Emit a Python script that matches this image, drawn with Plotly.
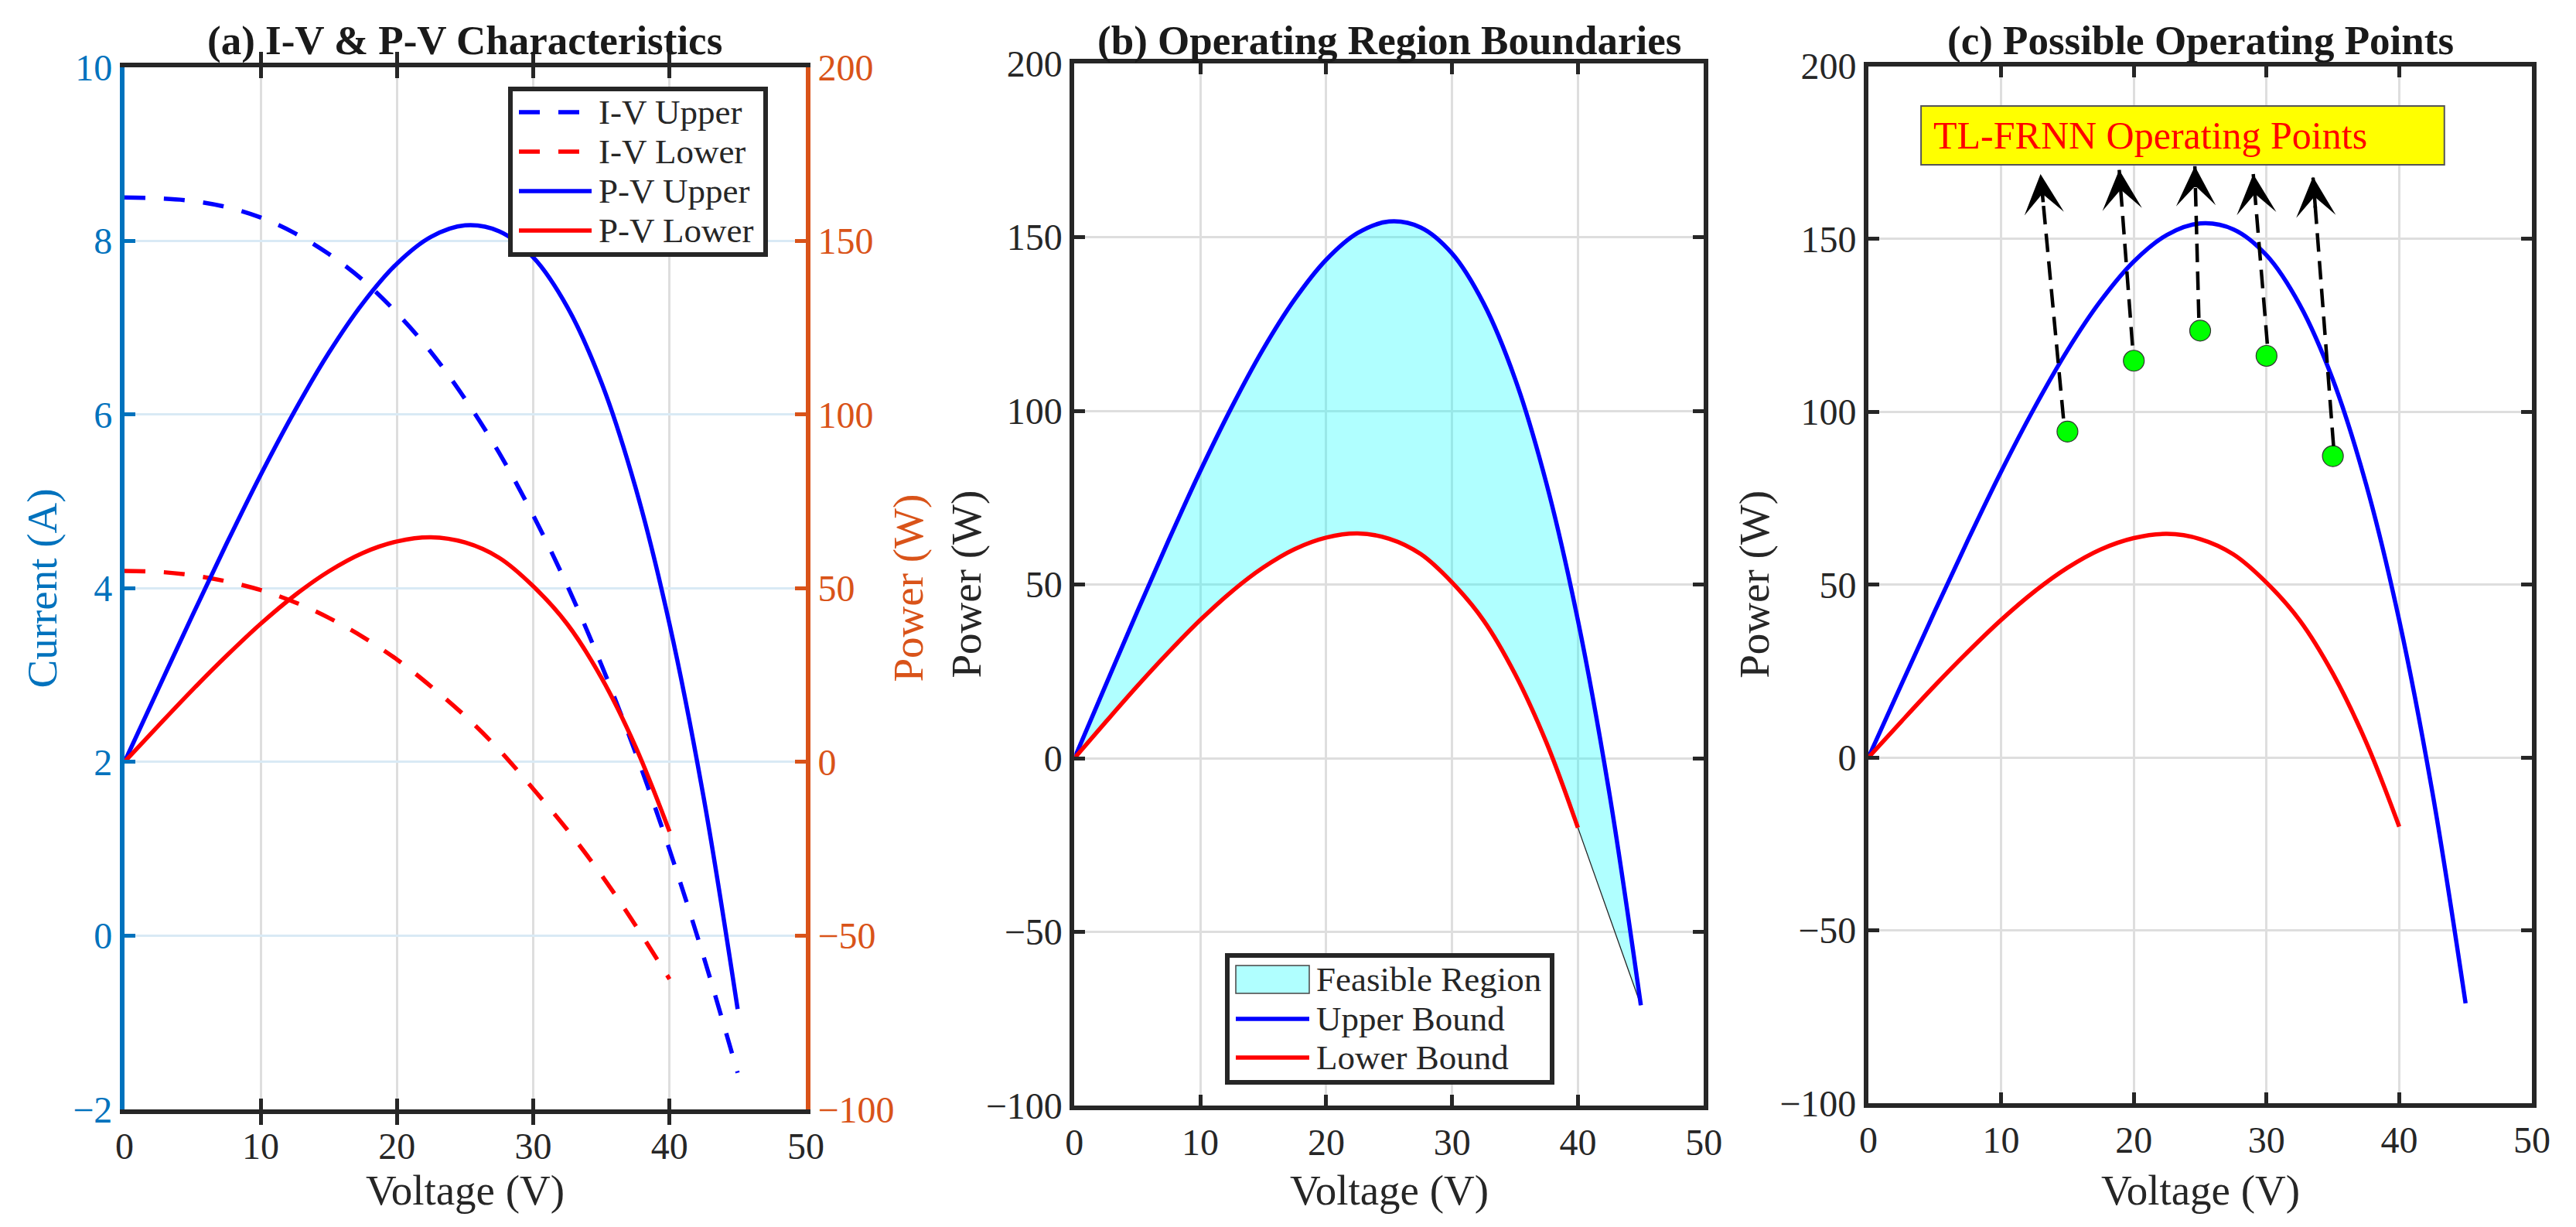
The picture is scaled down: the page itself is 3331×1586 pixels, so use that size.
import plotly.graph_objects as go

# ---- data ----
# upper / lower PV characteristics, sampled every 2.5 V
v_upper = [0, 2.5, 5, 7.5, 10, 12.5, 15, 17.5, 20, 22.5, 25, 27.5, 30, 32.5, 35, 37.5, 40, 42.5, 45]
i_upper = [8.50, 8.49, 8.46, 8.39, 8.27, 8.09, 7.85, 7.55, 7.17, 6.72, 6.18, 5.56, 4.84, 4.03, 3.12, 2.11, 0.99, -0.24, -1.58]
p_upper = [0, 21.2, 42.3, 62.9, 82.7, 101.1, 117.8, 132.1, 143.5, 151.2, 154.5, 152.8, 145.3, 131.0, 109.3, 79.1, 39.7, -10.1, -71.1]

v_lower = [0, 2.5, 5, 7.5, 10, 12.5, 15, 17.5, 20, 22.5, 25, 27.5, 30, 32.5, 35, 37.5, 40]
i_lower = [4.20, 4.19, 4.15, 4.08, 3.98, 3.84, 3.66, 3.44, 3.18, 2.87, 2.53, 2.14, 1.69, 1.22, 0.70, 0.12, -0.50]
p_lower = [0, 10.5, 20.8, 30.6, 39.8, 48.0, 54.9, 60.2, 63.5, 64.7, 63.2, 58.8, 50.6, 39.7, 24.3, 4.5, -20.0]

# TL-FRNN operating points (panel c)
v_points = [15, 20, 25, 30, 35]
p_points = [94.3, 114.8, 123.5, 116.2, 87.2]

# ---- styling ----
FONT = "Liberation Serif, Times New Roman, serif"
DARK = "#262626"
BLUE_AX = "#0072BD"
ORANGE_AX = "#D95319"
BLUE = "#0000FF"
RED = "#FF0000"
CYAN_FILL = "rgba(0,255,255,0.31)"
DASH = "27px,24px"
LW = 5.5
W, H = 3331, 1586


def px(x):
    return x / W


def py(y):
    return 1 - y / H


# panel domains (paper coords)
dom_a = [0.0459, 0.3104]
dom_b = [0.4147, 0.6590]
dom_c = [0.7229, 0.9805]
ydom_a = [0.1009, 0.9502]
ydom_b = [0.1040, 0.9533]
ydom_c = [0.1059, 0.9511]


def line(color, dash=None):
    return dict(color=color, width=LW, dash=dash, shape="spline", smoothing=1)


fig = go.Figure()

# (a) I-V & P-V
fig.add_trace(go.Scatter(x=v_upper, y=i_upper, name="I-V Upper", mode="lines",
                         line=line(BLUE, DASH), xaxis="x", yaxis="y"))
fig.add_trace(go.Scatter(x=v_lower, y=i_lower, name="I-V Lower", mode="lines",
                         line=line(RED, DASH), xaxis="x", yaxis="y"))
fig.add_trace(go.Scatter(x=v_upper, y=p_upper, name="P-V Upper", mode="lines",
                         line=line(BLUE), xaxis="x", yaxis="y2"))
fig.add_trace(go.Scatter(x=v_lower, y=p_lower, name="P-V Lower", mode="lines",
                         line=line(RED), xaxis="x", yaxis="y2"))

# (b) operating region: fill between the two bounds
fig.add_trace(go.Scatter(x=v_lower, y=p_lower, mode="lines", hoverinfo="skip",
                         line=dict(width=0, shape="spline", smoothing=1),
                         xaxis="x2", yaxis="y3"))
fig.add_trace(go.Scatter(x=v_upper, y=p_upper, name="Feasible Region", mode="lines",
                         fill="tonexty", fillcolor=CYAN_FILL,
                         line=dict(width=0, shape="spline", smoothing=1),
                         xaxis="x2", yaxis="y3"))
# patch edge closing the region at the right end
fig.add_trace(go.Scatter(x=[v_lower[-1], v_upper[-1]], y=[p_lower[-1], p_upper[-1]],
                         mode="lines", line=dict(color="#222222", width=1.3),
                         xaxis="x2", yaxis="y3"))
fig.add_trace(go.Scatter(x=v_upper, y=p_upper, name="Upper Bound", mode="lines",
                         line=line(BLUE), xaxis="x2", yaxis="y3"))
fig.add_trace(go.Scatter(x=v_lower, y=p_lower, name="Lower Bound", mode="lines",
                         line=line(RED), xaxis="x2", yaxis="y3"))

# (c) operating points
fig.add_trace(go.Scatter(x=v_upper, y=p_upper, mode="lines",
                         line=line(BLUE), xaxis="x3", yaxis="y4"))
fig.add_trace(go.Scatter(x=v_lower, y=p_lower, mode="lines",
                         line=line(RED), xaxis="x3", yaxis="y4"))

shapes = []
annotations = []

# dashed arrows from the points up to the label box
arrow_tails = [(14.7, 98.1), (19.9, 119.2), (24.9, 127.2), (30.06, 119.7), (35.05, 90.1)]
arrow_heads = [(12.97, 168.8), (18.9, 170.0), (24.6, 171.1), (29.0, 168.8), (33.5, 168.0)]
for (tx, ty), (hx, hy) in zip(arrow_tails, arrow_heads):
    shapes.append(dict(type="line", xref="x3", yref="y4", x0=tx, y0=ty, x1=hx, y1=hy,
                       line=dict(color="black", width=4.5, dash="24px,12px"), layer="above"))
    f = 0.12
    annotations.append(dict(xref="x3", yref="y4", axref="x3", ayref="y4",
                            x=hx, y=hy, ax=hx + f * (tx - hx), ay=hy + f * (ty - hy),
                            text="", showarrow=True, arrowhead=3, arrowsize=1.9,
                            arrowwidth=4.5, arrowcolor="black"))

fig.add_trace(go.Scatter(x=v_points, y=p_points, mode="markers",
                         marker=dict(color="#00FF00", size=27, line=dict(color="#333333", width=1.2)),
                         xaxis="x3", yaxis="y4"))

# yellow label box
shapes.append(dict(type="rect", xref="x3", yref="y4", x0=3.97, x1=43.4, y0=171.5, y1=188.5,
                   fillcolor="#FFFF00", line=dict(color="#555555", width=2), layer="above"))
annotations.append(dict(xref="x3", yref="y4", x=4.8, y=180.0, xanchor="left", yanchor="middle",
                        text="TL-FRNN Operating Points", showarrow=False,
                        font=dict(family=FONT, size=50, color=RED)))

# ---- legends drawn as boxed keys ----
LEG_FONT = dict(family=FONT, size=45, color=DARK)


def legend_box(x0, x1, y0, y1):
    shapes.append(dict(type="rect", xref="paper", yref="paper", x0=px(x0), x1=px(x1),
                       y0=py(y1), y1=py(y0), fillcolor="white",
                       line=dict(color=DARK, width=6), layer="above"))


def legend_line(x0, x1, yc, color, dash=None):
    shapes.append(dict(type="line", xref="paper", yref="paper", x0=px(x0), x1=px(x1),
                       y0=py(yc), y1=py(yc), line=dict(color=color, width=LW, dash=dash),
                       layer="above"))


def legend_text(x, yc, txt):
    annotations.append(dict(xref="paper", yref="paper", x=px(x), y=py(yc), xanchor="left",
                            yanchor="middle", text=txt, showarrow=False, font=LEG_FONT))


legend_a = [("I-V Upper", BLUE, DASH), ("I-V Lower", RED, DASH),
            ("P-V Upper", BLUE, None), ("P-V Lower", RED, None)]
legend_box(652, 982, 107, 321)
for k, (name, col, dash) in enumerate(legend_a):
    yc = 137 + 51 * k
    legend_line(663, 757, yc, col, dash)
    legend_text(764, yc, name)

legend_box(1579, 1999, 1227, 1391)
shapes.append(dict(type="rect", xref="paper", yref="paper", x0=px(1590), x1=px(1685),
                   y0=py(1276), y1=py(1240), fillcolor=CYAN_FILL,
                   line=dict(color="#444444", width=1.5), layer="above"))
legend_text(1692, 1258, "Feasible Region")
for k, (name, col) in enumerate([("Upper Bound", BLUE), ("Lower Bound", RED)]):
    yc = 1309 + 50 * k
    legend_line(1590, 1685, yc, col)
    legend_text(1692, yc, name)

# titles
titles = ["(a) I-V & P-V Characteristics", "(b) Operating Region Boundaries",
          "(c) Possible Operating Points"]
for t, d in zip(titles, [dom_a, dom_b, dom_c]):
    annotations.append(dict(xref="paper", yref="paper", x=(d[0] + d[1]) / 2, y=py(44),
                            xanchor="center", yanchor="middle", text="<b>" + t + "</b>",
                            showarrow=False, font=dict(family=FONT, size=53, color="#1a1a1a")))

# axis labels
for d in [dom_a, dom_b, dom_c]:
    annotations.append(dict(xref="paper", yref="paper", x=(d[0] + d[1]) / 2, y=py(1530),
                            xanchor="center", yanchor="middle", text="Voltage (V)",
                            showarrow=False, font=dict(family=FONT, size=55, color=DARK)))
ylabels = [("Current (A)", 46, ydom_a, BLUE_AX), ("Power (W)", 1166, ydom_a, ORANGE_AX),
           ("Power (W)", 1242, ydom_b, DARK), ("Power (W)", 2261, ydom_c, DARK)]
for txt, x, yd, col in ylabels:
    annotations.append(dict(xref="paper", yref="paper", x=px(x), y=(yd[0] + yd[1]) / 2,
                            xanchor="center", yanchor="middle", textangle=-90, text=txt,
                            showarrow=False, font=dict(family=FONT, size=55, color=col)))

tickfont = dict(family=FONT, size=48, color=DARK)
xcommon = dict(range=[0, 50], tickvals=[0, 10, 20, 30, 40, 50], showline=True, linecolor=DARK,
               linewidth=6, mirror="allticks", ticks="inside", ticklen=14, tickwidth=5,
               tickcolor=DARK, showgrid=True, gridcolor="rgb(222,222,222)", gridwidth=3,
               zeroline=False, tickfont=tickfont)
ycommon = dict(range=[-100, 200], tickvals=[-100, -50, 0, 50, 100, 150, 200], showline=True,
               linecolor=DARK, linewidth=6, mirror="allticks", ticks="inside", ticklen=14,
               tickwidth=5, tickcolor=DARK, showgrid=True, gridcolor="rgb(222,222,222)",
               gridwidth=3, zeroline=False, tickfont=tickfont)

fig.update_layout(
    width=W, height=H,
    margin=dict(l=0, r=0, t=0, b=0, autoexpand=False),
    paper_bgcolor="white", plot_bgcolor="white",
    showlegend=False,
    xaxis=dict(xcommon, domain=dom_a, anchor="y"),
    yaxis=dict(domain=ydom_a, anchor="x", range=[-2, 10], tickvals=[-2, 0, 2, 4, 6, 8, 10],
               showline=True, linecolor=BLUE_AX, linewidth=6, ticks="inside", ticklen=14,
               tickwidth=5, tickcolor=BLUE_AX, showgrid=True, gridcolor="rgb(217,234,245)",
               gridwidth=3, zeroline=False, tickfont=dict(family=FONT, size=48, color=BLUE_AX)),
    yaxis2=dict(overlaying="y", side="right", anchor="x", range=[-100, 200],
                tickvals=[-100, -50, 0, 50, 100, 150, 200], showline=True, linecolor=ORANGE_AX,
                linewidth=6, ticks="inside", ticklen=14, tickwidth=5, tickcolor=ORANGE_AX,
                showgrid=False, zeroline=False,
                tickfont=dict(family=FONT, size=48, color=ORANGE_AX)),
    xaxis2=dict(xcommon, domain=dom_b, anchor="y3"),
    yaxis3=dict(ycommon, domain=ydom_b, anchor="x2"),
    xaxis3=dict(xcommon, domain=dom_c, anchor="y4"),
    yaxis4=dict(ycommon, domain=ydom_c, anchor="x3"),
    shapes=shapes,
    annotations=annotations,
)

fig.write_html("out.html")
